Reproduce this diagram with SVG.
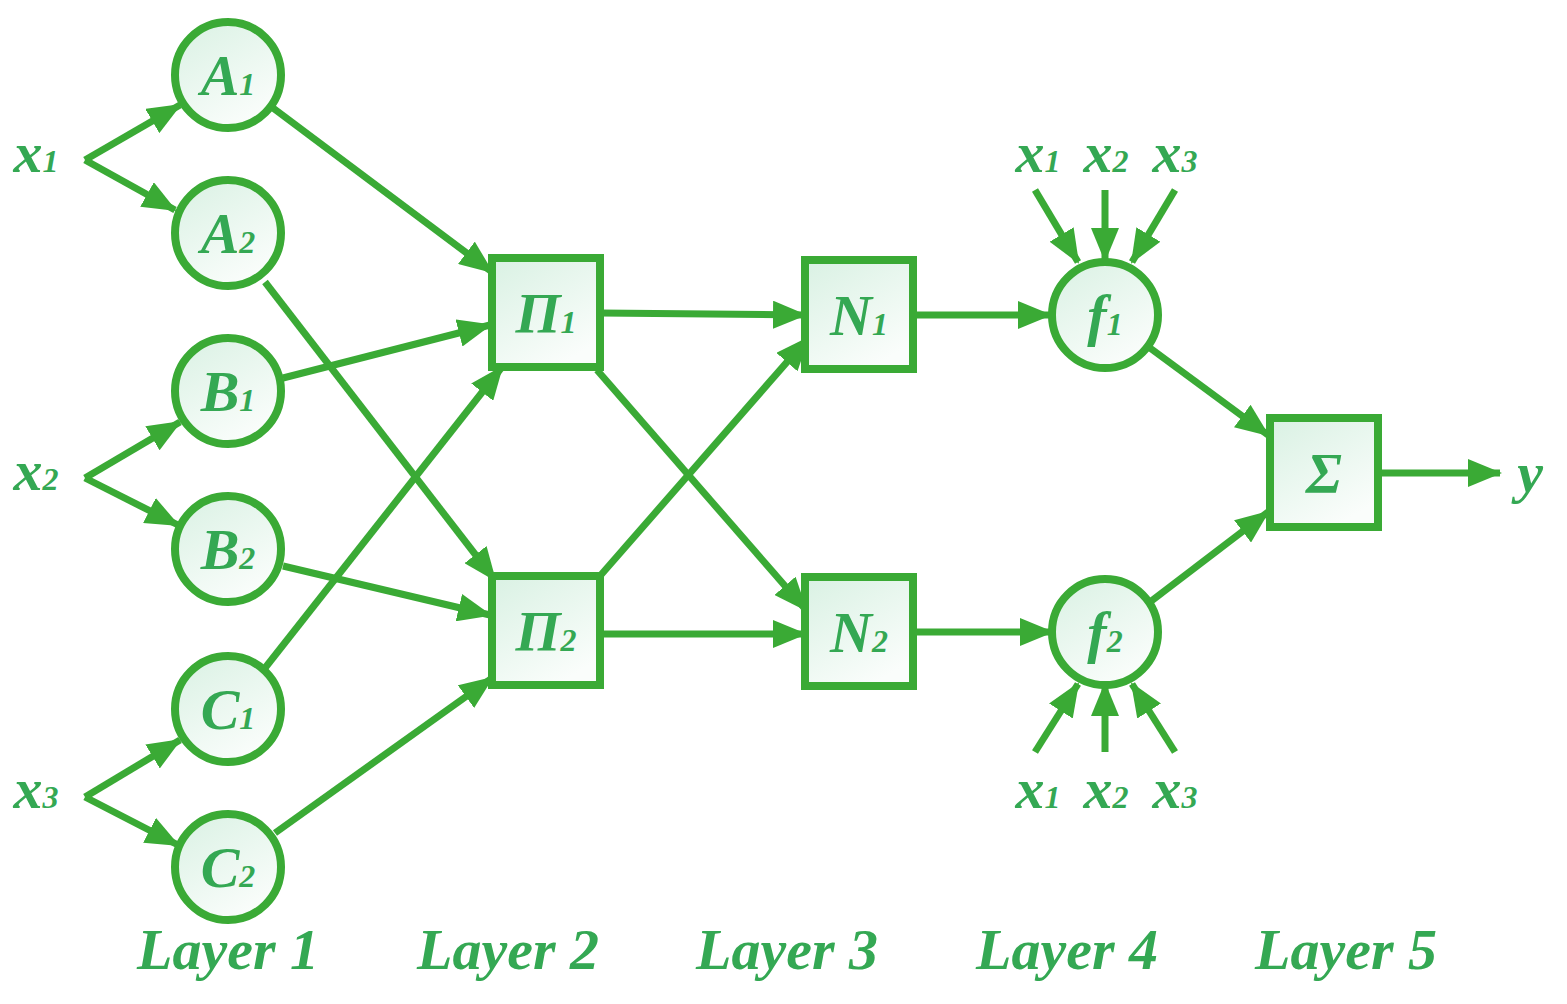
<svg xmlns="http://www.w3.org/2000/svg" width="1567" height="1004" viewBox="0 0 1567 1004">
<style>
.n{fill:url(#g);stroke:#3aaa35;stroke-width:8}
.e{stroke:#3aaa35;stroke-width:7;fill:none;marker-end:url(#a)}
text{font-family:"Liberation Serif",serif;font-style:italic;font-weight:bold;fill:#34a853}
.t{font-size:58px;text-anchor:middle}
.s{font-size:32px}
.l{font-size:58px;text-anchor:middle}
</style>
<defs>
<linearGradient id="g" x1="0" y1="0" x2="0.6" y2="1"><stop offset="0" stop-color="#d9f1e3"/><stop offset="1" stop-color="#fafdfb"/></linearGradient>
<marker id="a" markerUnits="userSpaceOnUse" markerWidth="34" markerHeight="28" refX="32" refY="14" orient="auto"><path d="M0,0L34,14L0,28z" fill="#3aaa35"/></marker>
</defs>
<g id="connectors">
<path class="e" d="M85,160L180,105"/><path class="e" d="M85,160L175,210"/><path class="e" d="M85,478L180,422"/>
<path class="e" d="M85,478L178,525"/><path class="e" d="M85,797L180,740"/><path class="e" d="M85,797L178,845"/>
<path class="e" d="M273,108L492,272"/><path class="e" d="M265,282L495,580"/><path class="e" d="M283,378L490,325"/>
<path class="e" d="M283,566L490,615"/><path class="e" d="M265,668L502,367"/><path class="e" d="M275,833L492,678"/>
<path class="e" d="M600,313L805,315"/><path class="e" d="M597,370L806,610"/><path class="e" d="M600,576L808,338"/>
<path class="e" d="M600,634L805,634"/><path class="e" d="M913,315L1050,315"/><path class="e" d="M913,632L1052,632"/>
<path class="e" d="M1150,348L1268,435"/><path class="e" d="M1150,602L1268,512"/><path class="e" d="M1378,473L1500,473"/>
<path class="e" d="M1035,190L1078,262"/><path class="e" d="M1105,190L1105,260"/><path class="e" d="M1175,190L1132,262"/>
<path class="e" d="M1035,752L1078,684"/><path class="e" d="M1105,752L1105,684"/><path class="e" d="M1175,752L1132,684"/>
</g>
<g id="A1"><circle class="n" cx="228" cy="75" r="53"/><text class="t" x="228" y="95">A<tspan class="s">1</tspan></text></g>
<g id="A2"><circle class="n" cx="228" cy="233" r="53"/><text class="t" x="228" y="253">A<tspan class="s">2</tspan></text></g>
<g id="B1"><circle class="n" cx="228" cy="391" r="53"/><text class="t" x="228" y="411">B<tspan class="s">1</tspan></text></g>
<g id="B2"><circle class="n" cx="228" cy="549" r="53"/><text class="t" x="228" y="569">B<tspan class="s">2</tspan></text></g>
<g id="C1"><circle class="n" cx="228" cy="709" r="53"/><text class="t" x="228" y="729">C<tspan class="s">1</tspan></text></g>
<g id="C2"><circle class="n" cx="228" cy="867" r="53"/><text class="t" x="228" y="887">C<tspan class="s">2</tspan></text></g>
<g id="P1"><rect class="n" x="492" y="258" width="108" height="109"/><text class="t" x="546" y="333">Π<tspan class="s">1</tspan></text></g>
<g id="P2"><rect class="n" x="492" y="576" width="108" height="109"/><text class="t" x="546" y="651">Π<tspan class="s">2</tspan></text></g>
<g id="N1"><rect class="n" x="805" y="260" width="108" height="109"/><text class="t" x="859" y="335">N<tspan class="s">1</tspan></text></g>
<g id="N2"><rect class="n" x="805" y="577" width="108" height="109"/><text class="t" x="859" y="652">N<tspan class="s">2</tspan></text></g>
<g id="f1"><circle class="n" cx="1105" cy="315" r="53"/><text class="t" x="1105" y="335">f<tspan class="s">1</tspan></text></g>
<g id="f2"><circle class="n" cx="1105" cy="632" r="53"/><text class="t" x="1105" y="652">f<tspan class="s">2</tspan></text></g>
<g id="S"><rect class="n" x="1270" y="418" width="108" height="109"/><text class="t" x="1324" y="493">Σ</text></g>
<g id="labels">
<text class="t" x="36" y="172">x<tspan class="s">1</tspan></text>
<text class="t" x="36" y="490">x<tspan class="s">2</tspan></text>
<text class="t" x="36" y="808">x<tspan class="s">3</tspan></text>
<text class="t" x="1038" y="172">x<tspan class="s">1</tspan></text>
<text class="t" x="1106" y="172">x<tspan class="s">2</tspan></text>
<text class="t" x="1175" y="172">x<tspan class="s">3</tspan></text>
<text class="t" x="1038" y="808">x<tspan class="s">1</tspan></text>
<text class="t" x="1106" y="808">x<tspan class="s">2</tspan></text>
<text class="t" x="1175" y="808">x<tspan class="s">3</tspan></text>
<text class="t" x="1530" y="492">y</text>
<text class="l" x="228" y="969">Layer 1</text>
<text class="l" x="508" y="969">Layer 2</text>
<text class="l" x="787" y="969">Layer 3</text>
<text class="l" x="1067" y="969">Layer 4</text>
<text class="l" x="1346" y="969">Layer 5</text>
</g>
</svg>
